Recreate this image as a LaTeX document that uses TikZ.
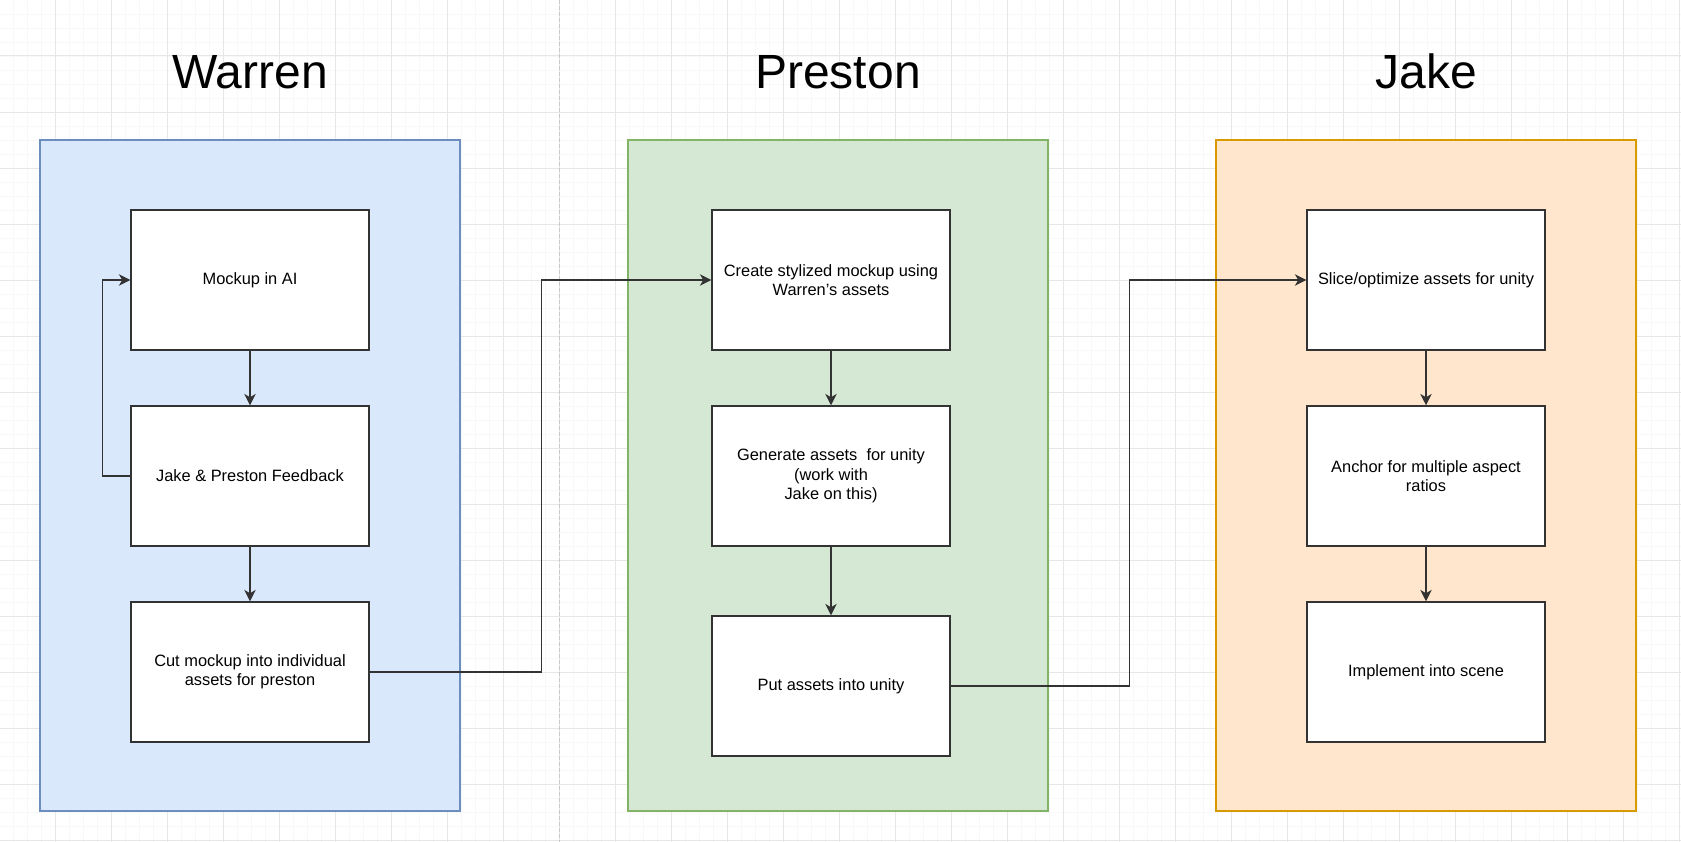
\documentclass[tikz,border=0pt]{standalone}
\usepackage{fontspec}
\setmainfont{Liberation Sans}
\usetikzlibrary{arrows.meta}

\definecolor{warrenfill}{HTML}{DAE8FC}
\definecolor{warrenline}{HTML}{6C8EBF}
\definecolor{prestonfill}{HTML}{D5E8D4}
\definecolor{prestonline}{HTML}{82B366}
\definecolor{jakefill}{HTML}{FFE6CC}
\definecolor{jakeline}{HTML}{D79B00}
\definecolor{taskline}{HTML}{333333}

\tikzset{
	minorgrid/.style={draw={rgb,255:red,248;green,248;blue,248}, line width=0.5pt},
	majorgrid/.style={draw={rgb,255:red,231;green,231;blue,231}, line width=0.75pt},
	divider/.style={draw={rgb,255:red,200;green,200;blue,200}, line width=0.75pt, dash pattern=on 3pt off 1.5pt},
	lane/.style={minimum width=315pt, minimum height=503.25pt, line width=0.9pt},
	title/.style={anchor=base, font=\fontsize{36}{43}\selectfont},
	task/.style={draw=taskline, fill=white, line width=1.1pt, minimum width=178.5pt, minimum height=105pt, align=center, font=\fontsize{12.3}{14.5}\selectfont},
	flow/.style={draw=taskline, line width=1.1pt, -{Stealth[length=8.5pt,width=8.5pt,inset=2.5pt]}}
}

\begin{document}
\begin{tikzpicture}
	[x=0.75pt,y=-0.75pt]

	\useasboundingbox (0,0) rectangle (1681,842);
	\fill[white] (0,0) rectangle (1681,842);

	% background grid
	\foreach \gx in {13,27,...,1681} \draw[minorgrid] (\gx,0) -- (\gx,842);
	\foreach \gy in {14,28,...,842} \draw[minorgrid] (0,\gy) -- (1681,\gy);
	\foreach \gx in {55,111,...,1681} \draw[majorgrid] (\gx,0) -- (\gx,842);
	\foreach \gy in {56,112,...,842} \draw[majorgrid] (0,\gy) -- (1681,\gy);
	\draw[divider] (559,0) -- (559,842);

	% lanes
	\node[lane, fill=warrenfill, draw=warrenline] (warren) at (250,475.5) {};
	\node[lane, fill=prestonfill, draw=prestonline] (preston) at (838,475.5) {};
	\node[lane, fill=jakefill, draw=jakeline] (jake) at (1426,475.5) {};

	\node[title] (warrenhead) at (250,89) {Warren};
	\node[title] (prestonhead) at (838,89) {Preston};
	\node[title] (jakehead) at (1426,89) {Jake};

	% Warren
	\node[task] (mockup) at (250,280) {Mockup in AI};
	\node[task] (feedback) at (250,476) {Jake \& Preston Feedback};
	\node[task] (cutup) at (250,672) {Cut mockup into individual\\assets for preston};

	% Preston
	\node[task] (stylize) at (831,280) {Create stylized mockup using\\Warren's assets};
	\node[task] (generate) at (831,476) {Generate assets\ \ for unity\\(work with\\Jake on this)};
	\node[task] (import) at (831,686) {Put assets into unity};

	% Jake
	\node[task] (slice) at (1426,280) {Slice/optimize assets for unity};
	\node[task] (anchors) at (1426,476) {Anchor for multiple aspect\\ratios};
	\node[task] (scene) at (1426,672) {Implement into scene};

	\draw[flow] (mockup) -- (feedback);
	\draw[flow] (feedback) -- (cutup);
	\draw[flow] (feedback.west) -- ++(-28,0) |- (mockup.west);
	\draw[flow] (cutup.east) -- ++(172,0) |- (stylize.west);
	\draw[flow] (stylize) -- (generate);
	\draw[flow] (generate) -- (import);
	\draw[flow] (import.east) -- ++(179,0) |- (slice.west);
	\draw[flow] (slice) -- (anchors);
	\draw[flow] (anchors) -- (scene);

\end{tikzpicture}
\end{document}
